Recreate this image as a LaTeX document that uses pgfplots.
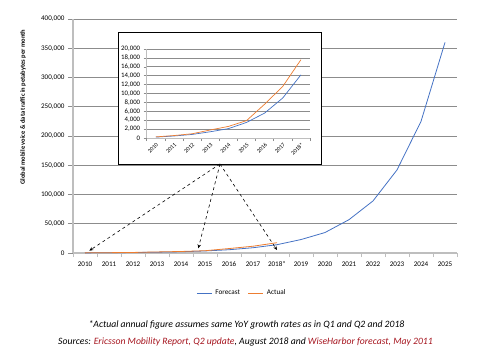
\documentclass[border=0pt]{standalone}
\usepackage{pgfplots}
\pgfplotsset{compat=1.18}
\usepackage{fontspec}
\setmainfont{Carlito}
\usetikzlibrary{arrows.meta}
\definecolor{fc}{RGB}{68,114,196}
\definecolor{ac}{RGB}{237,125,49}
\definecolor{src}{RGB}{165,20,30}
\definecolor{gridc}{RGB}{140,140,140}
\definecolor{axc}{RGB}{190,190,190}
\begin{document}
\begin{tikzpicture}[x=1pt,y=1pt]
\useasboundingbox (0,0) rectangle (489,357);
% main axis
\begin{axis}[
  at={(73pt,104pt)}, anchor=south west,
  width=384pt, height=234pt, scale only axis,
  xmin=-0.5, xmax=15.5, ymin=0, ymax=400000,
  xtick={0,...,15},
  xticklabels={2010,2011,2012,2013,2014,2015,2016,2017,2018*,2019,2020,2021,2022,2023,2024,2025},
  minor xtick={-0.5,0.5,...,15.5},
  major x tick style={draw=none},
  minor x tick style={draw=axc, line width=0.8pt},
  minor tick length=4pt,
  ytick={0,50000,...,400000},
  scaled y ticks=false,
  /pgf/number format/fixed,
  /pgf/number format/1000 sep={,},
  /pgf/number format/assume math mode=true,
  tick label style={font=\fontsize{7.1}{8}\selectfont, text=black},
  major y tick style={draw=gridc, line width=0.6pt},
  major tick length=5pt,
  tick align=outside,
  ymajorgrids, grid style={draw=gridc, line width=0.7pt},
  axis x line*=bottom, axis y line*=left,
  axis line style={draw=axc, line width=1.6pt, -},
  legend columns=2,
  legend style={at={(0.44,-0.171)}, anchor=center, draw=none, fill=none,
    font=\fontsize{7.2}{8}\selectfont, column sep=1pt,
    /tikz/every even column/.append style={column sep=6pt}},
  legend image code/.code={\draw[#1, line width=0.9pt] (0pt,0pt) -- (15pt,0pt);},
]
\addplot[fc, line width=0.8pt] coordinates {
 (0,200) (1,450) (2,800) (3,1400) (4,2100) (5,3500) (6,5600) (7,9000) (8,14200)
 (9,23000) (10,35000) (11,57000) (12,89000) (13,142000) (14,225000) (15,360000)};
\addlegendentry{Forecast}
\addplot[ac, line width=0.8pt] coordinates {
 (0,250) (1,550) (2,950) (3,1800) (4,2600) (5,3900) (6,7600) (7,11600) (8,17600)};
\addlegendentry{Actual}
\end{axis}
% inset box
\filldraw[fill=white, draw=black, line width=0.8pt] (118,193) rectangle (321,325);
\begin{axis}[
  at={(146.7pt,219pt)}, anchor=south west,
  width=163.3pt, height=89pt, scale only axis,
  xmin=-0.5, xmax=8.5, ymin=0, ymax=20000,
  xtick={0,...,8},
  xticklabels={2010,2011,2012,2013,2014,2015,2016,2017,2018*},
  minor xtick={-0.5,0.5,...,8.5},
  major x tick style={draw=none},
  minor x tick style={draw=gridc, line width=0.6pt},
  minor tick length=3pt,
  ytick={0,2000,...,20000},
  scaled y ticks=false,
  /pgf/number format/fixed,
  /pgf/number format/1000 sep={,},
  /pgf/number format/assume math mode=true,
  y tick label style={font=\fontsize{6.8}{7}\selectfont, text=black},
  x tick label style={font=\fontsize{5.8}{7}\selectfont, text=black, rotate=45, anchor=north east, inner sep=1pt},
  major y tick style={draw=gridc, line width=0.5pt},
  major tick length=3pt,
  tick align=outside,
  ymajorgrids, grid style={draw=gridc, line width=0.6pt},
  axis x line*=bottom, axis y line*=left,
  axis line style={draw=axc, line width=1pt, -},
]
\addplot[fc, line width=0.7pt] coordinates {
 (0,200) (1,450) (2,800) (3,1400) (4,2100) (5,3500) (6,5600) (7,9000) (8,14200)};
\addplot[ac, line width=0.7pt] coordinates {
 (0,250) (1,550) (2,950) (3,1800) (4,2600) (5,3900) (6,7600) (7,11600) (8,17600)};
\end{axis}
% arrows
\begin{scope}[dashed, line width=0.6pt, -{Stealth[length=4pt,width=3.5pt]}]
\draw (220,193) -- (89.3,106.3);
\draw (220,193) -- (198.3,108.7);
\draw (220,193) -- (277,107);
\end{scope}
% y label
\node[rotate=90, font=\bfseries\fontsize{6.5}{7}\selectfont] at (23,250) {Global mobile voice \& data traffic in petabytes per month};
% footnotes
\node[font=\itshape\fontsize{9.7}{10}\selectfont] at (246.5,32) {*Actual annual figure assumes same YoY growth rates as in Q1 and Q2 and 2018};
\node[font=\itshape\fontsize{9.7}{10}\selectfont] at (245.5,15) {Sources: \textcolor{src}{Ericsson Mobility Report, Q2 update}, August 2018 and \textcolor{src}{WiseHarbor forecast, May 2011}};
\end{tikzpicture}
\end{document}
